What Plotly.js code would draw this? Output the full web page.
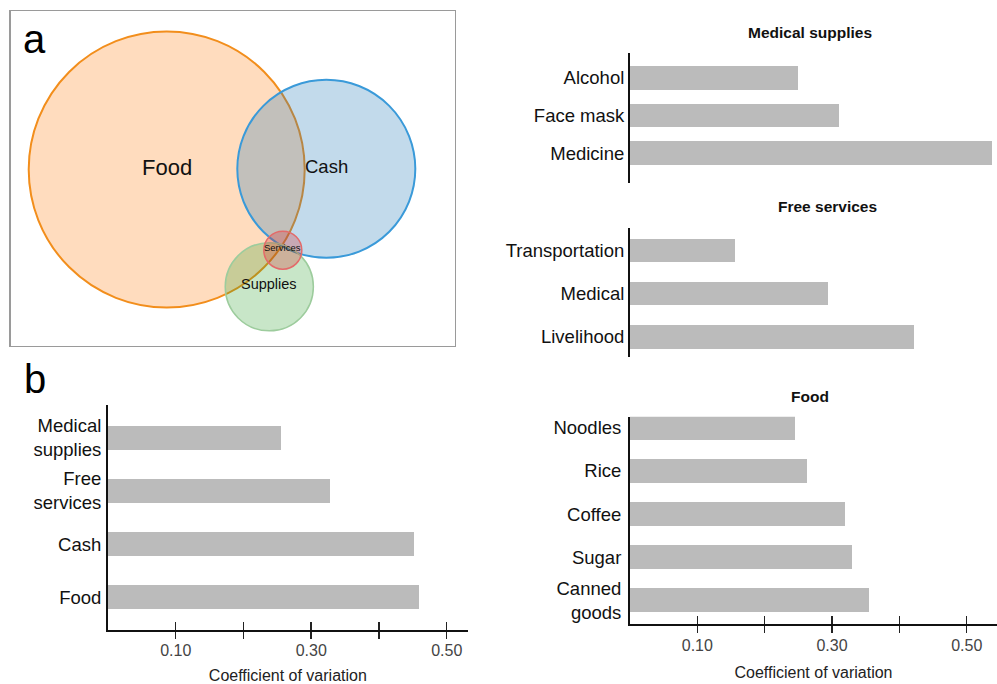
<!DOCTYPE html>
<html><head><meta charset="utf-8">
<script src="https://cdn.plot.ly/plotly-3.0.1.min.js"></script>
<style>html,body{margin:0;padding:0;background:#fff}#chart{width:997px;height:684px}</style>
</head><body><div id="chart"></div>
<script>
// ---------------- data ----------------
const overviewCategories = ["Medical<br>supplies", "Free<br>services", "Cash", "Food"];
const overviewValues = [0.256, 0.328, 0.451, 0.459];

const medicalCategories = ["Alcohol", "Face mask", "Medicine"];
const medicalValues = [0.249, 0.311, 0.537];

const servicesCategories = ["Transportation", "Medical", "Livelihood"];
const servicesValues = [0.156, 0.294, 0.422];

const foodCategories = ["Noodles", "Rice", "Coffee", "Sugar", "Canned<br>goods"];
const foodValues = [0.245, 0.263, 0.319, 0.330, 0.355];

const vennSets = ["Food", "Cash", "Supplies", "Services"];
const vennSizes = [100, 41.6, 10.2, 1.9];   // relative set sizes (circle areas)

const xTickVals = [0.1, 0.2, 0.3, 0.4, 0.5];
const xTickText = ["0.10", "", "0.30", "", "0.50"];
const xTitle = "Coefficient of variation";
const panelTitles = ["Medical supplies", "Free services", "Food"];

// ---------------- layout helpers ----------------
const W = 997, H = 684;
const px = v => v / W;
const py = v => 1 - v / H;
const FONT = "Liberation Sans, Arial, Helvetica, sans-serif";
const BAR = "#bbbbbb";

// Venn layout (pixel positions inside panel a), radius scale for size 100
const vennCenters = [[166.7, 169.5], [326.3, 168.8], [269.3, 286.8], [282.8, 250.2]];
const vennRScale = 138;
const vennStyle = [
  {fill: "rgba(255,127,14,0.27)", line: "#f28e1c", w: 2, fs: 22},
  {fill: "rgba(31,119,180,0.27)", line: "#3a9ad9", w: 2, fs: 18.5},
  {fill: "rgba(44,160,44,0.26)", line: "#9dcc9d", w: 1.5, fs: 14.5},
  {fill: "rgba(214,39,40,0.28)", line: "#e36a6a", w: 1.5, fs: 9.5}
];

const bar = (x, y, xa, ya, w) => ({
  type: "bar", orientation: "h", x: x, y: y, xaxis: xa, yaxis: ya,
  marker: {color: BAR, line: {width: 0}}, width: w, hoverinfo: "none"
});

const traces = [
  bar(overviewValues, overviewCategories, "x", "y", 0.44),
  bar(medicalValues, medicalCategories, "x2", "y2", 0.62),
  bar(servicesValues, servicesCategories, "x3", "y3", 0.54),
  bar(foodValues, foodCategories, "x4", "y4", 0.55),
  {type: "scatter", x: [], y: [], xaxis: "x5", yaxis: "y", hoverinfo: "none"},
  {type: "scatter", x: [], y: [], xaxis: "x6", yaxis: "y6", hoverinfo: "none"},
  {type: "scatter", x: [], y: [], xaxis: "x7", yaxis: "y4", hoverinfo: "none"}
];

const tickFont = {family: FONT, size: 16, color: "#444"};
const catFont = {family: FONT, size: 18.5, color: "#111"};

const xMain = (domain, range, anchor) => ({
  domain: domain, range: range, anchor: anchor,
  showline: true, linecolor: "#111", linewidth: 2,
  ticks: "outside", ticklen: 7, tickwidth: 1.5, tickcolor: "#222",
  ticklabelstandoff: -2,
  tickmode: "array", tickvals: xTickVals, ticktext: xTickText,
  tickfont: tickFont, showgrid: false, zeroline: false,
  title: {text: xTitle, font: {family: FONT, size: 16, color: "#222"}, standoff: 14}
});
const xOver = (over, range, anchor) => ({
  overlaying: over, range: range, anchor: anchor, side: "bottom",
  showline: false, ticks: "inside", ticklen: 8, tickwidth: 1.5, tickcolor: "#222",
  tickmode: "array", tickvals: xTickVals, showticklabels: false,
  showgrid: false, zeroline: false
});
const xHidden = (domain, range, anchor) => ({
  domain: domain, range: range, anchor: anchor, showline: false,
  showticklabels: false, ticks: "", showgrid: false, zeroline: false
});
const yCat = (domain, range, anchor, cats, standoff) => ({
  domain: domain, range: range, anchor: anchor,
  type: "category", categoryorder: "array", categoryarray: cats,
  showline: true, linecolor: "#111", linewidth: 2, ticks: "",
  ticklabelstandoff: standoff, tickfont: catFont, showgrid: false, zeroline: false
});

const leftRange = [0, 0.531];
const rightRange = [0, 0.545];
const rightDomain = [px(630), 1];

const shapes = [];
const annotations = [];

vennSets.forEach((name, i) => {
  const r = vennRScale * Math.sqrt(vennSizes[i] / 100);
  const [cx, cy] = vennCenters[i];
  shapes.push({
    type: "circle", xref: "x6", yref: "y6",
    x0: cx - r, x1: cx + r, y0: cy - r, y1: cy + r,
    fillcolor: vennStyle[i].fill, line: {color: vennStyle[i].line, width: vennStyle[i].w},
    layer: "above"
  });
});
vennSets.forEach((name, i) => {
  const [cx, cy] = vennCenters[i];
  annotations.push({
    xref: "x6", yref: "y6", x: cx, y: cy, text: name, showarrow: false,
    xanchor: "center", yanchor: "middle", yshift: 2.5,
    font: {family: FONT, size: vennStyle[i].fs, color: "#111"}
  });
});

// panel letters
annotations.push({xref: "paper", yref: "paper", x: px(34), y: py(39), text: "a", showarrow: false,
  xanchor: "center", yanchor: "middle", font: {family: FONT, size: 40, color: "#000"}});
annotations.push({xref: "paper", yref: "paper", x: px(35), y: py(379), text: "b", showarrow: false,
  xanchor: "center", yanchor: "middle", font: {family: FONT, size: 40, color: "#000"}});

// right panel titles
const titlePos = [[810, 32], [827, 207], [810, 396]];
panelTitles.forEach((t, i) => {
  annotations.push({xref: "paper", yref: "paper", x: px(titlePos[i][0]), y: py(titlePos[i][1]),
    text: "<b>" + t + "</b>", showarrow: false, xanchor: "center", yanchor: "middle",
    font: {family: FONT, size: 15.5, color: "#111"}});
});

const layout = {
  width: W, height: H, margin: {l: 0, r: 0, t: 0, b: 0},
  paper_bgcolor: "#fff", plot_bgcolor: "rgba(0,0,0,0)",
  showlegend: false, bargap: 0,
  font: {family: FONT},
  xaxis: xMain([px(108), px(467.7)], leftRange, "y"),
  yaxis: yCat([py(630), py(405)], [3.62, -0.62], "x", overviewCategories, 1),
  xaxis2: xHidden(rightDomain, rightRange, "y2"),
  yaxis2: yCat([py(182.7), py(52.7)], [2.79, -0.67], "x2", medicalCategories, 0),
  xaxis3: xHidden(rightDomain, rightRange, "y3"),
  yaxis3: yCat([py(356.7), py(227.7)], [2.46, -0.53], "x3", servicesCategories, 0),
  xaxis4: xMain(rightDomain, rightRange, "y4"),
  yaxis4: yCat([py(624.3), py(416.7)], [4.56, -0.26], "x4", foodCategories, 3),
  xaxis5: xOver("x", leftRange, "y"),
  xaxis7: xOver("x4", rightRange, "y4"),
  xaxis6: {domain: [px(10.5), px(455)], range: [10.5, 455], anchor: "y6",
    showline: true, mirror: "all", linecolor: "#9a9a9a", linewidth: 1.2,
    showticklabels: false, ticks: "", showgrid: false, zeroline: false, fixedrange: true},
  yaxis6: {domain: [py(345.5), py(11)], range: [345.5, 11], anchor: "x6",
    showline: true, mirror: "all", linecolor: "#9a9a9a", linewidth: 1.2,
    showticklabels: false, ticks: "", showgrid: false, zeroline: false, fixedrange: true},
  shapes: shapes,
  annotations: annotations
};

Plotly.newPlot("chart", traces, layout, {staticPlot: true, displayModeBar: false});
</script>
</body></html>
